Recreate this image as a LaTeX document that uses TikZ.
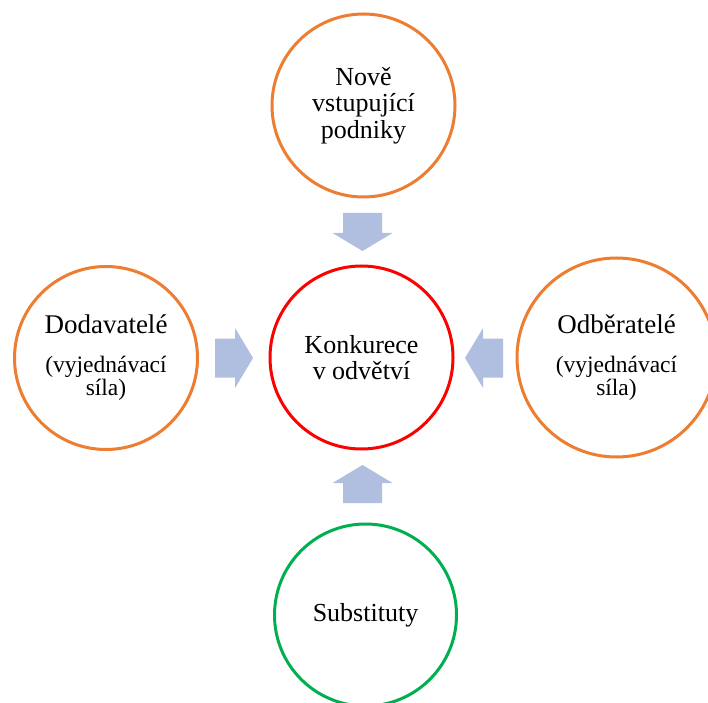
\documentclass[tikz,border=0pt]{standalone}
\usepackage{fontspec}
\setmainfont{Liberation Serif}
\definecolor{ringorange}{RGB}{237,125,49}
\definecolor{ringred}{RGB}{255,0,0}
\definecolor{ringgreen}{RGB}{0,176,80}
\definecolor{flowfill}{RGB}{176,190,224}
\newcommand{\subsize}{\fontsize{23.5}{22}\selectfont}
\begin{document}
\begin{tikzpicture}[x=1pt,y=1pt,
  ring/.style={circle, draw=#1, line width=3pt, fill=white, inner sep=0pt,
    align=center, text=black, font=\fontsize{26}{26.5}\selectfont},
  sidering/.style={ring=#1, font=\fontsize{27}{26}\selectfont},
  flow/.style={fill=flowfill, draw=none}]
\useasboundingbox (0,0) rectangle (708,702);

% the five forces
\node[ring=ringorange, minimum size=183pt] (entrants) at (363.5,596.5)
  {Nově\\vstupující\\podniky};
\node[ring=ringred, minimum size=183pt] (rivalry) at (361.5,344.5)
  {Konkurece\\v odvětví};
\node[sidering=ringorange, minimum size=183pt] (suppliers) at (106,344)
  {Dodavatelé\\[13pt]{\subsize(vyjednávací}\\[-3pt]{\subsize síla)}};
\node[sidering=ringorange, minimum size=199pt] (buyers) at (616.5,344.5)
  {Odběratelé\\[13pt]{\subsize(vyjednávací}\\[-3pt]{\subsize síla)}};
\node[ring=ringgreen, minimum size=182pt] (substitutes) at (365.5,87)
  {Substituty};

% block arrows pointing at the rivalry circle
\coordinate (aTop) at (362.5,470);
\coordinate (aLeft) at (234,344);
\coordinate (aRight) at (484,344);
\coordinate (aBottom) at (362.5,218);
\foreach \c/\r in {aTop/-90, aLeft/0, aRight/180, aBottom/90}{
  \fill[flow, shift={(\c)}, rotate=\r]
    (-19,-19.5) -- (1,-19.5) -- (1,-30) -- (19,0) -- (1,30) -- (1,19.5)
    -- (-19,19.5) -- cycle;
}
\end{tikzpicture}
\end{document}
